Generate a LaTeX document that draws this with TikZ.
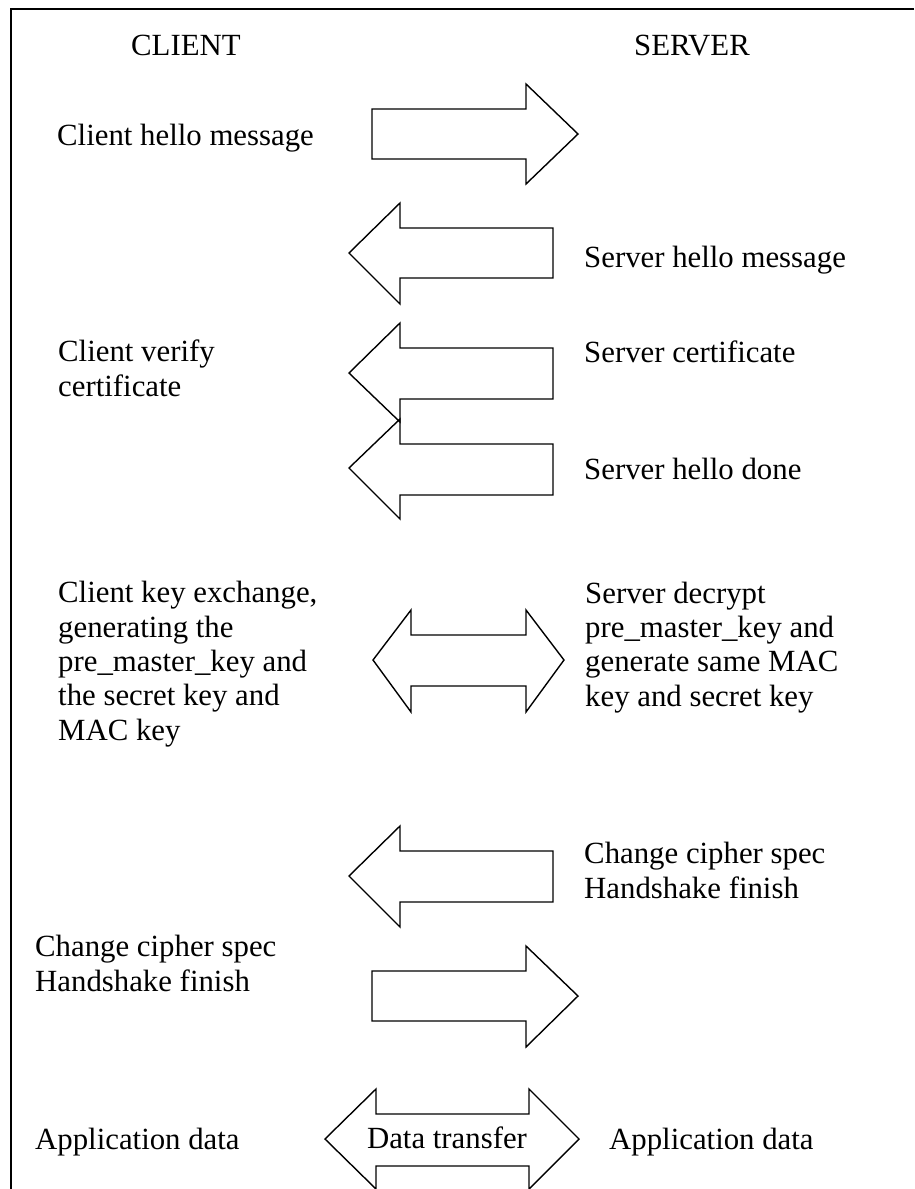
\documentclass[tikz,border=0pt]{standalone}
\usepackage{fontspec}
\setmainfont{Liberation Serif}
\begin{document}
\begin{tikzpicture}[x=1pt,y=-1pt,
  blockarrow/.style={draw=black,line width=1.4pt,line join=miter},
  frame/.style={draw=black,line width=2pt},
  lbl/.style={anchor=base west,inner sep=0pt,align=left,font=\fontsize{30.8}{34.3}\selectfont}]
\useasboundingbox (0,0) rectangle (914,1189);
% frame (top and left edges)
\draw[frame] (914,9) -- (11,9) -- (11,1189);
% headings
\node[lbl] (client) at (131,55) {CLIENT};
\node[lbl] (server) at (634,55) {SERVER};
% arrow 1: client hello (right)
\draw[blockarrow] (372,109) -- (526,109) -- (526,84) -- (578,134) -- (526,184) -- (526,159) -- (372,159) -- cycle;
\node[lbl] (chello) at (57,145) {Client hello message};
% arrow 2: server hello (left)
\draw[blockarrow] (553,228) -- (400,228) -- (400,203) -- (349,253) -- (400,304) -- (400,278) -- (553,278) -- cycle;
\node[lbl] (shello) at (584,267) {Server hello message};
% arrow 3: server certificate (left)
\draw[blockarrow] (553,348) -- (400,348) -- (400,323) -- (349,373) -- (400,422) -- (400,399) -- (553,399) -- cycle;
\node[lbl] (cverify) at (58,396) {Client verify\\certificate};
\node[lbl] (scert) at (584,362) {Server certificate};
% arrow 4: server hello done (left)
\draw[blockarrow] (553,444) -- (400,444) -- (400,419) -- (349,468) -- (400,519) -- (400,495) -- (553,495) -- cycle;
\node[lbl] (sdone) at (584,479) {Server hello done};
% arrow 5: key exchange (double)
\draw[blockarrow] (411,635) -- (526,635) -- (526,610) -- (564,660) -- (526,712) -- (526,686) -- (411,686) -- (411,712) -- (373,660) -- (411,610) -- cycle;
\node[lbl] (ckey) at (58,740) {Client key exchange,\\generating the\\pre\_master\_key and\\the secret key and\\MAC key};
\node[lbl] (sdec) at (585,706) {Server decrypt\\pre\_master\_key and\\generate same MAC\\key and secret key};
% arrow 6: server change cipher spec (left)
\draw[blockarrow] (553,851) -- (400,851) -- (400,826) -- (349,876) -- (400,927) -- (400,902) -- (553,902) -- cycle;
\node[lbl] (schange) at (584,898) {Change cipher spec\\Handshake finish};
% arrow 7: client change cipher spec (right)
\draw[blockarrow] (372,971) -- (526,971) -- (526,946) -- (578,996) -- (526,1047) -- (526,1021) -- (372,1021) -- cycle;
\node[lbl] (cchange) at (35,991) {Change cipher spec\\Handshake finish};
% arrow 8: data transfer (double)
\draw[blockarrow] (376,1114) -- (529,1114) -- (529,1089) -- (579,1139) -- (529,1189) -- (529,1166) -- (376,1166) -- (376,1189) -- (325,1139) -- (376,1089) -- cycle;
\node[lbl,anchor=base] (dt) at (447,1148) {Data transfer};
\node[lbl] (capp) at (35,1149) {Application data};
\node[lbl] (sapp) at (609,1149) {Application data};
\end{tikzpicture}
\end{document}
